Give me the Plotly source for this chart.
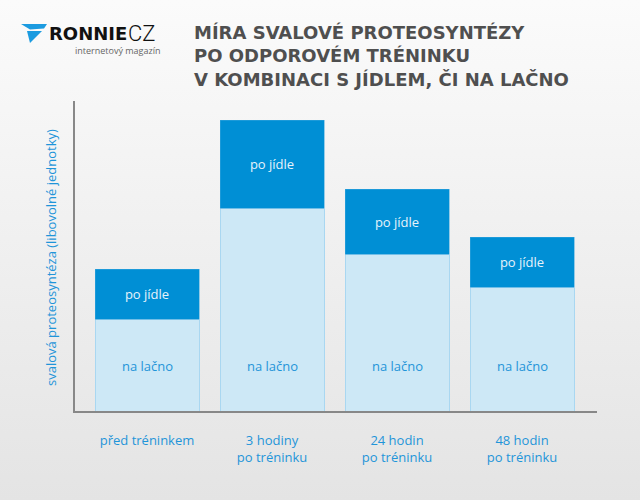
import base64
import plotly.graph_objects as go

W, H = 640, 500

# data (arbitrary units)
categories = ["před tréninkem", "3 hodiny<br>po tréninku", "24 hodin<br>po tréninku", "48 hodin<br>po tréninku"]
na_lacno = [9.2, 20.3, 15.7, 12.4]
po_jidle = [5.0, 8.8, 6.5, 5.0]
series_names = ["na lačno", "po jídle"]
title_lines = ["MÍRA SVALOVÉ PROTEOSYNTÉZY", "PO ODPOROVÉM TRÉNINKU", "V KOMBINACI S JÍDLEM, ČI NA LAČNO"]
y_title = "svalová proteosyntéza (libovolné jednotky)"

BLUE = "#008fd5"
LIGHT = "#cde8f6"
TXT_BLUE = "#1f95d9"
FONT = "Open Sans"


def px(x, y):
    # pixel -> paper coords (margins are zero)
    return x / W, 1 - y / H


# soft vertical gradient for the page background
svg = (
    '<svg xmlns="http://www.w3.org/2000/svg" width="10" height="100" preserveAspectRatio="none">'
    '<defs><linearGradient id="g" x1="0" y1="0" x2="0" y2="1">'
    '<stop offset="0" stop-color="#fbfbfb"/><stop offset="1" stop-color="#e4e4e4"/>'
    '</linearGradient></defs><rect width="10" height="100" fill="url(#g)"/></svg>'
)
bg_src = "data:image/svg+xml;base64," + base64.b64encode(svg.encode()).decode()

fig = go.Figure()
fig.add_trace(go.Bar(
    x=categories, y=na_lacno, name=series_names[0],
    marker=dict(color=LIGHT, line=dict(color="#a9d7f1", width=1)),
    hoverinfo="x+y",
))
fig.add_trace(go.Bar(
    x=categories, y=po_jidle, name=series_names[1],
    marker=dict(color=BLUE, line=dict(color="#3aa6de", width=0.5)),
    text=[series_names[1]] * len(categories), textposition="inside",
    insidetextanchor="middle", textangle=0,
    textfont=dict(family=FONT, size=13, color="#e6f3fb"),
))

annotations = []
# "na lačno" labels sit at the same height in every bar
for c in categories:
    annotations.append(dict(
        x=c, y=4.5, xref="x", yref="y", text=series_names[0], showarrow=False,
        font=dict(family=FONT, size=13, color=TXT_BLUE),
    ))

tx, ty = px(192, 56.5)
annotations.append(dict(
    x=tx, y=ty, xref="paper", yref="paper", xanchor="left", yanchor="middle", align="left",
    text="<br>".join("<b>" + s + "</b>" for s in title_lines), showarrow=False,
    font=dict(family="DejaVu Sans", size=18, color="#4f4f4f"),
))

ax, ay = px(40, 258)
annotations.append(dict(
    x=ax, y=ay, xref="paper", yref="paper", text=y_title, textangle=-90,
    showarrow=False, font=dict(family=FONT, size=13, color=TXT_BLUE),
))

# logo text
lx, ly = px(47, 33)
annotations.append(dict(
    x=lx, y=ly, xref="paper", yref="paper", xanchor="left", yanchor="middle",
    text="<b>RONNIE</b>", showarrow=False,
    font=dict(family="DejaVu Sans", size=18, color="#111111"),
))
lx, ly = px(126, 33)
annotations.append(dict(
    x=lx, y=ly, xref="paper", yref="paper", xanchor="left", yanchor="middle",
    text="CZ", showarrow=False,
    font=dict(family="Roboto", size=22, color="#111111", weight=300),
))
lx, ly = px(163, 51)
annotations.append(dict(
    x=lx, y=ly, xref="paper", yref="paper", xanchor="right", yanchor="middle",
    text="internetový magazín", showarrow=False,
    font=dict(family=FONT, size=9, color="#666666"),
))


def path(points):
    return "M " + " L ".join("%.4f,%.4f" % px(x, y) for x, y in points) + " Z"


shapes = [
    dict(type="path", xref="paper", yref="paper", line=dict(width=0), fillcolor="#1c9be0",
         path=path([(21, 24), (47, 24), (44, 28.5), (30, 29.5)])),
    dict(type="path", xref="paper", yref="paper", line=dict(width=0), fillcolor="#1c9be0",
         path=path([(27, 31), (42, 31), (30, 43)])),
]

fig.update_layout(
    width=W, height=H,
    margin=dict(l=0, r=0, t=0, b=0),
    paper_bgcolor="#eeeeee", plot_bgcolor="rgba(0,0,0,0)",
    barmode="stack", bargap=0.168, showlegend=False,
    images=[dict(source=bg_src, xref="paper", yref="paper", x=0, y=1, sizex=1, sizey=1,
                 sizing="stretch", layer="below", xanchor="left", yanchor="top")],
    annotations=annotations, shapes=shapes,
    font=dict(family=FONT),
)
fig.update_xaxes(
    domain=[75 / W, 597 / W], range=[-0.576, 3.6],
    showline=True, linecolor="#888888", linewidth=2, showgrid=False, ticks="",
    tickfont=dict(family=FONT, size=13, color=TXT_BLUE), ticklabelstandoff=16,
)
fig.update_yaxes(
    domain=[1 - 411 / H, 1 - 101 / H], range=[0, 31.0],
    showline=True, linecolor="#888888", linewidth=2, showgrid=False,
    showticklabels=False, ticks="", zeroline=False,
)

fig.write_html("out.html", config={"displayModeBar": False},
               post_script="document.body.style.margin='0';")
